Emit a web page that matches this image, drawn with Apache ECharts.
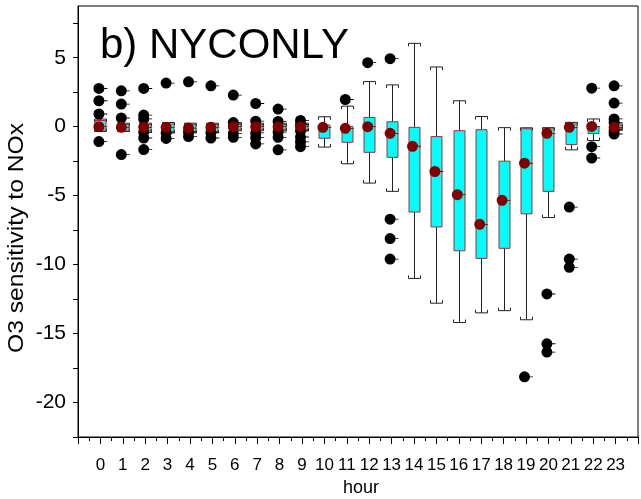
<!DOCTYPE html>
<html>
<head>
<meta charset="utf-8">
<script src="https://cdn.jsdelivr.net/npm/echarts@6/dist/echarts.min.js"></script>
<style>html,body{margin:0;padding:0;background:#fff;}#c{width:641px;height:499px;}</style>
</head>
<body>
<div id="c"></div>
<script>
// ---- data ----
const hours = [0,1,2,3,4,5,6,7,8,9,10,11,12,13,14,15,16,17,18,19,20,21,22,23];
const whiskerLow  = [-0.35,-0.35,-0.4,-0.45,-0.45,-0.45,-0.3,-0.3,-0.3,-0.3,-1.48,-2.69,-4.09,-4.69,-11.0,-12.8,-14.2,-13.5,-13.34,-14.0,-6.59,-1.68,-1.0,-0.2];
const q1          = [-0.25,-0.25,-0.3,-0.35,-0.35,-0.35,-0.2,-0.2,-0.2,-0.2,-0.84,-1.13,-1.86,-2.22,-6.19,-7.27,-9.0,-9.55,-8.82,-6.32,-4.69,-1.3,-0.5,-0.15];
const q3          = [0.45,0.15,0.15,0.2,0.15,0.15,0.15,0.15,0.15,0.15,0.12,0.02,0.67,0.36,-0.05,-0.72,-0.29,-0.22,-2.5,-0.15,-0.15,0.2,0.0,0.1];
const whiskerHigh = [0.55,0.25,0.25,0.3,0.25,0.25,0.25,0.25,0.25,0.25,0.72,1.49,3.27,3.03,6.04,4.33,1.88,0.74,-0.07,-0.08,-0.07,0.31,0.56,0.2];
const means       = [0.0,-0.05,-0.05,-0.05,-0.1,-0.05,0.0,0.0,0.0,0.0,-0.05,-0.12,0.0,-0.48,-1.42,-3.25,-4.93,-7.08,-5.34,-2.65,-0.48,-0.05,0.02,-0.05];
const outliers = [
  [2.77,1.88,0.92,-1.08],
  [2.6,1.64,0.63,-2.02],
  [2.77,0.84,0.56,-0.41,-0.82,-1.66],
  [3.16,-0.45,-0.85],
  [3.25,-0.4,-0.72],
  [2.96,-0.43,-0.82],
  [2.29,0.3,-0.5,-0.77],
  [1.68,0.4,-0.45,-0.8,-1.25],
  [1.28,0.38,-0.4,-0.77,-1.68],
  [0.45,0.15,-0.3,-0.75,-1.1,-1.45],
  [],
  [1.97],
  [4.64],
  [4.93,-6.71,-8.11,-9.6],
  [],[],[],[],[],
  [-18.14],
  [-12.13,-15.74,-16.34],
  [-5.83,-9.6,-10.2],
  [2.79,-1.45,-2.27],
  [2.96,1.71,0.56,0.31,-0.29,-0.53]
];
const yTicks = [-20,-15,-10,-5,0,5];

// ---- build ----
const FONT = 'Liberation Sans, Arial, sans-serif';
const boxData = hours.map((h,i)=>[h, whiskerLow[i], q1[i], q3[i], whiskerHigh[i]]);
const meanData = hours.map((h,i)=>[h, means[i]]);
const outData = [];
hours.forEach((h,i)=>outliers[i].forEach(v=>outData.push([h,v])));
const dotPath = 'path://M0,-5.5A5.5,5.5 0 1,1 0,5.5A5.5,5.5 0 1,1 0,-5.5Z M4.5,-0.4L8.5,-0.4L8.5,0.4L4.5,0.4Z';

const chart = echarts.init(document.getElementById('c'), null, {renderer:'canvas'});
chart.setOption({
  animation:false,
  backgroundColor:'#fff',
  title:{text:'b) NYCONLY', left:100, top:25, padding:0,
    textStyle:{fontFamily:FONT, fontSize:42, fontWeight:'normal', color:'#000'}},
  grid:{left:78, top:6, right:-3, bottom:62, show:true, borderColor:'#000', borderWidth:1},
  xAxis:{type:'value', min:-1, max:24, interval:1,
    axisLine:{onZero:false, lineStyle:{color:'#000'}},
    axisTick:{show:true, length:7, lineStyle:{color:'#000'}},
    minorTick:{show:true, splitNumber:2, length:4, lineStyle:{color:'#000'}},
    splitLine:{show:false},
    axisLabel:{margin:20, fontFamily:FONT, fontSize:17, color:'#000',
      formatter:v=> (hours.indexOf(v)>=0 ? String(v) : '')}
  },
  yAxis:{type:'value', min:-22.5, max:8.75, interval:2.5,
    axisLine:{onZero:false, lineStyle:{color:'#000'}},
    axisTick:{show:true, length:5, lineStyle:{color:'#000'}},
    splitLine:{show:false},
    axisLabel:{margin:12, fontFamily:FONT, fontSize:21, color:'#000',
      showMaxLabel:false,
      formatter:v=> (yTicks.indexOf(v)>=0 ? String(v) : '')}
  },
  graphic:[
    {type:'text', x:17, y:238, rotation:Math.PI/2, scaleX:1.12,
      style:{text:'O3 sensitivity to NOx', font:'22px '+FONT, fill:'#000', textAlign:'center', textVerticalAlign:'middle'}},
    {type:'text', x:361, y:488,
      style:{text:'hour', font:'18px '+FONT, fill:'#000', textAlign:'center', textVerticalAlign:'middle'}}
  ],
  series:[
    {type:'custom', data:boxData, encode:{x:0, y:[1,2,3,4]},
      renderItem:function(params, api){
        const x = api.value(0);
        const lo = api.coord([x, api.value(1)]);
        const b1 = api.coord([x, api.value(2)]);
        const b3 = api.coord([x, api.value(3)]);
        const hi = api.coord([x, api.value(4)]);
        const cx = Math.round(lo[0]) + 0.5;
        const hw = 5.5, cw = 6, tk = 3;
        const ls = {stroke:'#222', lineWidth:1, fill:null};
        return {type:'group', children:[
          {type:'line', shape:{x1:cx, y1:hi[1], x2:cx, y2:b3[1]}, style:ls},
          {type:'line', shape:{x1:cx, y1:b1[1], x2:cx, y2:lo[1]}, style:ls},
          {type:'polyline', shape:{points:[[cx-cw,hi[1]+tk],[cx-cw,hi[1]],[cx+cw,hi[1]],[cx+cw,hi[1]+tk]]}, style:ls},
          {type:'polyline', shape:{points:[[cx-cw,lo[1]-tk],[cx-cw,lo[1]],[cx+cw,lo[1]],[cx+cw,lo[1]-tk]]}, style:ls},
          {type:'rect', shape:{x:cx-hw, y:b3[1], width:2*hw, height:Math.max(1, b1[1]-b3[1])},
            style:{fill:'#00ffff', stroke:'#a03030', lineWidth:1}}
        ]};
      }
    },
    {type:'scatter', data:outData, symbol:dotPath, symbolSize:[14,11],
      itemStyle:{color:'#000', opacity:1}, z:3},
    {type:'scatter', data:meanData, symbol:dotPath, symbolSize:[14,11],
      itemStyle:{color:'#800000', opacity:1}, z:4}
  ]
});
</script>
</body>
</html>
